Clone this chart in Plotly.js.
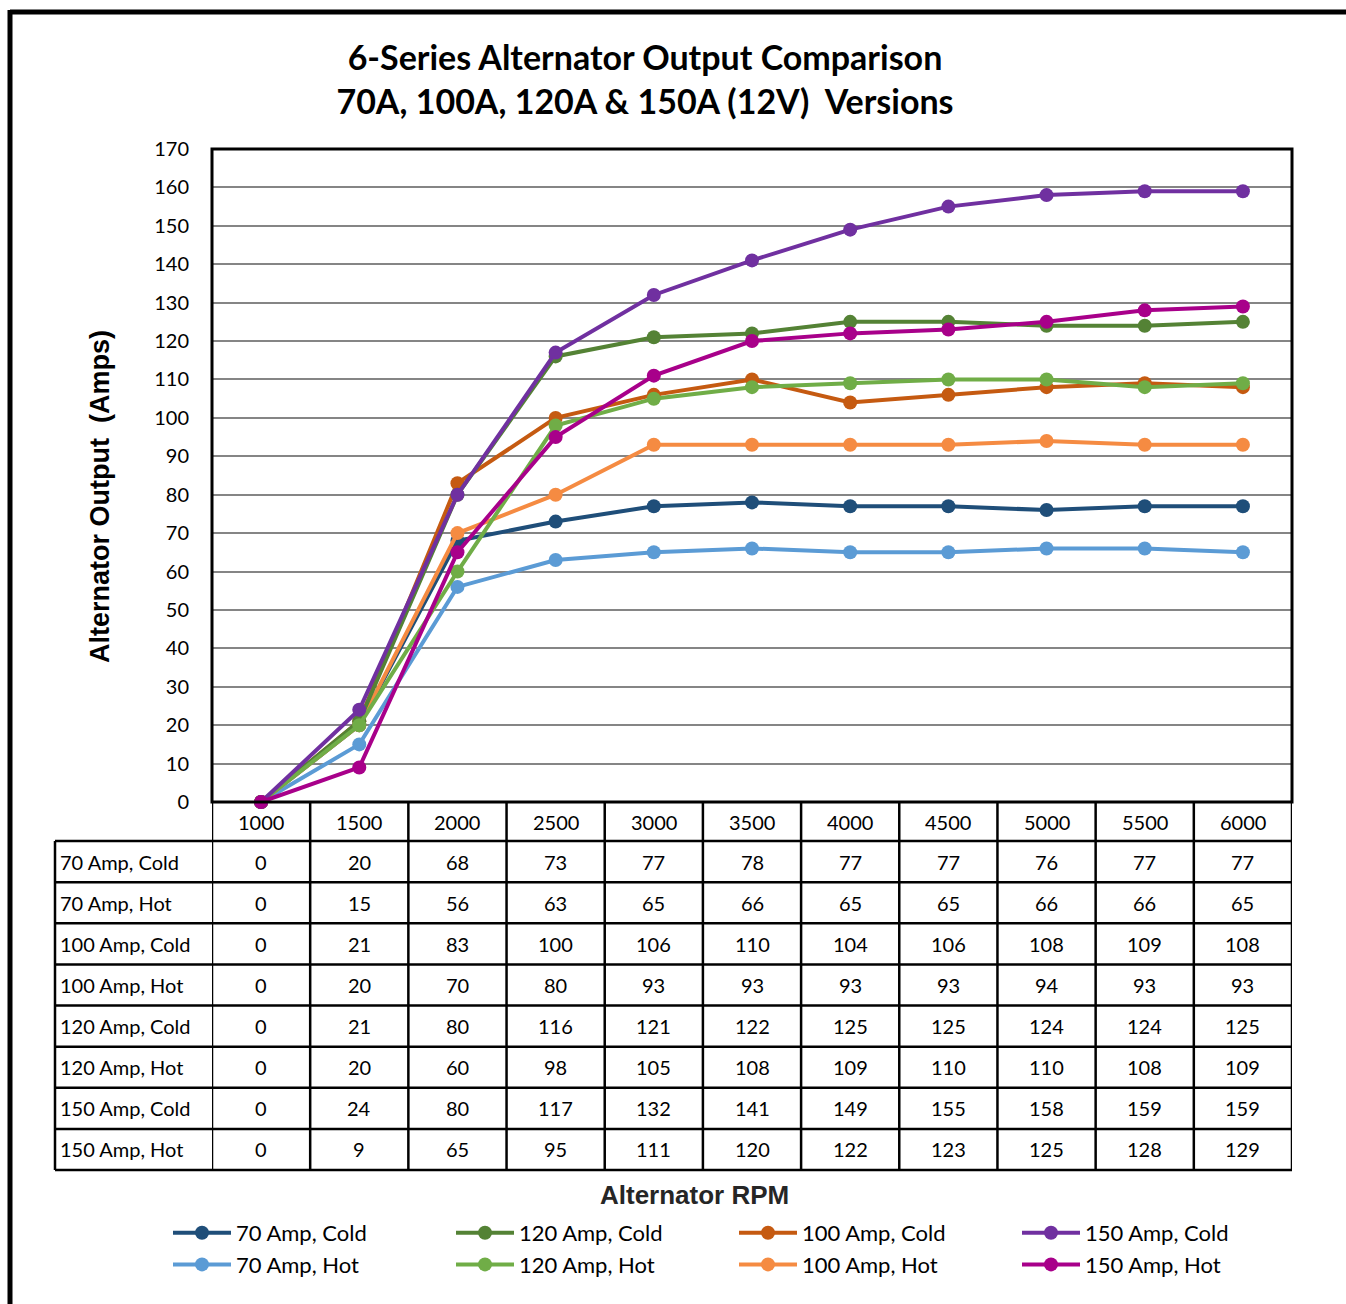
<!DOCTYPE html>
<html>
<head>
<meta charset="utf-8">
<script src="https://cdn.plot.ly/plotly-3.0.1.min.js"></script>
<style>
html,body{margin:0;padding:0;background:#fff;}
#chart{width:1346px;height:1304px;}
</style>
</head>
<body>
<div id="chart"></div>
<script>
// ---- data ----
const rpm = ["1000","1500","2000","2500","3000","3500","4000","4500","5000","5500","6000"];
const seriesNames = ["70 Amp, Cold","70 Amp, Hot","100 Amp, Cold","100 Amp, Hot","120 Amp, Cold","120 Amp, Hot","150 Amp, Cold","150 Amp, Hot"];
const amp70Cold  = [0,20,68,73,77,78,77,77,76,77,77];
const amp70Hot   = [0,15,56,63,65,66,65,65,66,66,65];
const amp100Cold = [0,21,83,100,106,110,104,106,108,109,108];
const amp100Hot  = [0,20,70,80,93,93,93,93,94,93,93];
const amp120Cold = [0,21,80,116,121,122,125,125,124,124,125];
const amp120Hot  = [0,20,60,98,105,108,109,110,110,108,109];
const amp150Cold = [0,24,80,117,132,141,149,155,158,159,159];
const amp150Hot  = [0,9,65,95,111,120,122,123,125,128,129];
const yTicks = [0,10,20,30,40,50,60,70,80,90,100,110,120,130,140,150,160,170];

const seriesValues = [amp70Cold,amp70Hot,amp100Cold,amp100Hot,amp120Cold,amp120Hot,amp150Cold,amp150Hot];
const colors = ["#1F4E79","#5B9BD5","#C55A11","#F58B42","#548235","#70AD47","#7030A0","#A8008A"];
// legend order: row1 70C,120C,100C,150C ; row2 70H,120H,100H,150H
const legendRanks = [1,5,3,7,2,6,4,8];

// ---- geometry helpers (pixel -> paper) ----
const L=212, R=1292, T=149, B=802, W=1346, H=1304;
const pw = R-L, ph = B-T;
const px = X => (X-L)/pw;
const py = Y => (B-Y)/ph;

const bodyFont = "Lato, 'Open Sans', sans-serif";

const traces = seriesNames.map((n,i)=>({
  type:'scatter', mode:'lines+markers', name:n,
  x: rpm, y: seriesValues[i],
  line:{color:colors[i], width:4},
  marker:{color:colors[i], size:14},
  legendrank: legendRanks[i],
  cliponaxis:false
}));

const shapes = [];
const annotations = [];

// outer frame (only left/top visible)
shapes.push({type:'line', xref:'paper', yref:'paper', x0:px(10), x1:px(1400), y0:py(12), y1:py(12), line:{color:'#000', width:5}});
shapes.push({type:'line', xref:'paper', yref:'paper', x0:px(10), x1:px(10), y0:py(10), y1:py(1350), line:{color:'#000', width:5}});

// plot area border
shapes.push({type:'rect', xref:'paper', yref:'paper', x0:0, x1:1, y0:0, y1:1, line:{color:'#000', width:3}, layer:'above'});

// table lines
const rowH = (1170-841)/8;
const tableTop = 841, tableBottom = 1170;
for(let r=0;r<=8;r++){
  const Y = tableTop + r*rowH;
  shapes.push({type:'line', xref:'paper', yref:'paper', x0:px(55), x1:1, y0:py(Y), y1:py(Y), line:{color:'#000', width:2.5}});
}
shapes.push({type:'line', xref:'paper', yref:'paper', x0:px(55), x1:px(55), y0:py(tableTop), y1:py(tableBottom), line:{color:'#000', width:2.5}});
for(let c=0;c<=rpm.length;c++){
  shapes.push({type:'line', xref:'x', yref:'paper', x0:c-0.5, x1:c-0.5, y0:0, y1:py(tableBottom), line:{color:'#000', width:2.5}});
}

// header labels
rpm.forEach((v,c)=>{
  annotations.push({xref:'x', yref:'paper', x:c, y:py(822), text:v, showarrow:false, xanchor:'center', yanchor:'middle', font:{family:bodyFont, size:20, color:'#000'}});
});
// rows
seriesNames.forEach((n,r)=>{
  const Yc = tableTop + (r+0.5)*rowH;
  annotations.push({xref:'paper', yref:'paper', x:px(58), y:py(Yc), text:n, showarrow:false, xanchor:'left', yanchor:'middle', font:{family:bodyFont, size:20, color:'#000'}});
  seriesValues[r].forEach((v,c)=>{
    annotations.push({xref:'x', yref:'paper', x:c, y:py(Yc), text:String(v), showarrow:false, xanchor:'center', yanchor:'middle', font:{family:bodyFont, size:20, color:'#000'}});
  });
});

// axis titles
annotations.push({xref:'paper', yref:'paper', x:px(694), y:py(1195), text:'<b>Alternator RPM</b>', showarrow:false, xanchor:'center', yanchor:'middle', font:{family:"'Liberation Sans', Arial, sans-serif", size:26, color:'#262626'}});
annotations.push({xref:'paper', yref:'paper', x:px(100), y:py(497), text:'<b>Alternator Output  (Amps)</b>', showarrow:false, textangle:-90, xanchor:'center', yanchor:'middle', font:{family:"'Liberation Sans', Arial, sans-serif", size:27, color:'#000'}});

const layout = {
  width:W, height:H,
  margin:{l:L, r:W-R, t:T, b:H-B, pad:0},
  paper_bgcolor:'#fff', plot_bgcolor:'#fff',
  title:{
    text:'<b>6-Series Alternator Output Comparison<br>70A, 100A, 120A & 150A (12V)  Versions</b>',
    xref:'container', yref:'container', x:645/W, xanchor:'center', y:1-70/H, yanchor:'middle',
    font:{family:bodyFont, size:34, color:'#000'}
  },
  xaxis:{type:'category', categoryarray:rpm, range:[-0.5, rpm.length-0.5], showgrid:false, showticklabels:false, ticks:'', zeroline:false, showline:false, fixedrange:true},
  yaxis:{range:[0,170], tickvals:yTicks, ticktext:yTicks.map(String), showgrid:true, gridcolor:'#858585', gridwidth:2, zeroline:false, showline:false, ticks:'outside', ticklen:0, ticklabelstandoff:18, tickfont:{family:bodyFont, size:20, color:'#000'}, fixedrange:true},
  showlegend:true,
  legend:{orientation:'h', x:px(168), xanchor:'left', y:py(1212), yanchor:'top', traceorder:'normal', entrywidth:210, entrywidthmode:'pixels', itemwidth:58, font:{family:bodyFont, size:22, color:'#000'}, bgcolor:'rgba(0,0,0,0)'},
  shapes:shapes,
  annotations:annotations
};

Plotly.newPlot('chart', traces, layout, {staticPlot:true, displayModeBar:false});
</script>
</body>
</html>
